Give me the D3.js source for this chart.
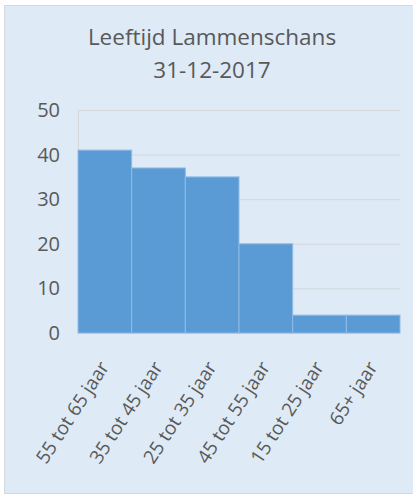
<!DOCTYPE html>
<html>
<head>
<meta charset="utf-8">
<script src="https://cdn.jsdelivr.net/npm/d3@7"></script>
<style>
  body { margin: 0; background: #fff; }
  svg { display: block; font-family: "Open Sans", sans-serif; }
</style>
</head>
<body>
<script>
const categories = ["55 tot 65 jaar", "35 tot 45 jaar", "25 tot 35 jaar", "45 tot 55 jaar", "15 tot 25 jaar", "65+ jaar"];
const values = [41, 37, 35, 20, 4, 4];
const yTicks = [0, 10, 20, 30, 40, 50];
const titleLines = ["Leeftijd Lammenschans", "31-12-2017"];

const width = 413, height = 495;
const margin = {top: 110, right: 13, bottom: 162, left: 78};

const svg = d3.select("body").append("svg")
  .attr("width", width)
  .attr("height", height);

// chart background
svg.append("rect")
  .attr("x", 4.5).attr("y", 5.5)
  .attr("width", 430).attr("height", 488)
  .attr("fill", "#deeaf6")
  .attr("stroke", "#d6d9dc");

svg.selectAll("text.title")
  .data(titleLines)
  .enter().append("text")
  .attr("class", "title")
  .attr("x", 212)
  .attr("y", (d, i) => 45 + i * 33)
  .attr("text-anchor", "middle")
  .attr("font-size", 22.5)
  .attr("fill", "#595959")
  .text(d => d);

const x = d3.scaleBand()
  .domain(categories)
  .range([margin.left, width - margin.right])
  .padding(0);

const y = d3.scaleLinear()
  .domain([0, 50])
  .range([height - margin.bottom, margin.top]);

// gridlines
svg.append("g")
  .selectAll("line")
  .data(yTicks)
  .enter().append("line")
  .attr("x1", margin.left)
  .attr("x2", width - margin.right)
  .attr("y1", d => y(d) + 0.5)
  .attr("y2", d => y(d) + 0.5)
  .attr("stroke", "#d3d7db")
  .attr("stroke-width", 1);

// vertical axis line
svg.append("line")
  .attr("x1", margin.left + 0.5).attr("x2", margin.left + 0.5)
  .attr("y1", y(50)).attr("y2", y(0))
  .attr("stroke", "#d3d7db");

svg.append("g")
  .selectAll("rect")
  .data(values)
  .enter().append("rect")
  .attr("x", (d, i) => x(categories[i]))
  .attr("y", d => y(d))
  .attr("width", x.bandwidth())
  .attr("height", d => y(0) - y(d))
  .attr("fill", "#5b9bd5")
  .attr("stroke", "#8fbbe3")
  .attr("stroke-width", 1);

// y axis
const yAxis = svg.append("g")
  .attr("transform", `translate(${margin.left},0)`)
  .call(d3.axisLeft(y).tickValues(yTicks).tickSize(0).tickPadding(18));
yAxis.select(".domain").remove();
yAxis.selectAll("text")
  .attr("font-size", 20)
  .attr("font-family", "Open Sans, sans-serif")
  .attr("fill", "#595959");

// x axis
const xAxis = svg.append("g")
  .attr("transform", `translate(0,${y(0)})`)
  .call(d3.axisBottom(x).tickSize(0).tickPadding(0));
xAxis.select(".domain").remove();
xAxis.selectAll("text")
  .attr("font-size", 19)
  .attr("font-family", "Open Sans, sans-serif")
  .attr("fill", "#595959")
  .attr("text-anchor", "end")
  .attr("dy", null)
  .attr("y", 0)
  .attr("transform", "translate(5,34) rotate(-57)");
</script>
</body>
</html>
